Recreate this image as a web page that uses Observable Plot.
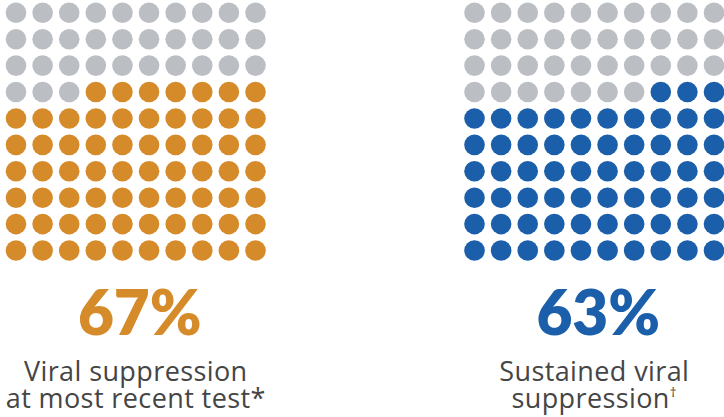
<!DOCTYPE html>
<html>
<head>
<meta charset="utf-8">
<script src="https://cdn.jsdelivr.net/npm/d3@7"></script>
<script src="https://cdn.jsdelivr.net/npm/@observablehq/plot@0.6"></script>
<style>
  html, body { margin: 0; padding: 0; background: #fff; }
  #chart svg { display: block; }
</style>
</head>
<body>
<div id="chart"></div>
<script>
// Data
const groups = ["left", "right"];
const percents = [67, 63];
const percentLabels = ["67%", "63%"];
const captions = ["Viral suppression\nat most recent test*", "Sustained viral\nsuppression†"];
const colors = ["#D68B2B", "#1B5FAB"];
const emptyColor = "#BBBEC3";

const gridSize = 10;
const groupOffset = 17.23; // column offset of second grid (grid units)

// Build waffle cells: filled from bottom row upward, right to left within a row
const cells = [];
groups.forEach((g, gi) => {
  for (let row = 0; row < gridSize; row++) {
    for (let col = 0; col < gridSize; col++) {
      const k = (gridSize - 1 - row) * gridSize + (gridSize - 1 - col);
      cells.push({
        group: g,
        x: gi * groupOffset + col,
        y: row,
        fill: k < percents[gi] ? colors[gi] : emptyColor
      });
    }
  }
});

const texts = groups.map((g, gi) => ({
  x: gi * groupOffset + 4.5,
  pct: percentLabels[gi],
  caption: captions[gi],
  color: colors[gi]
}));

const chart = Plot.plot({
  width: 724,
  height: 417,
  margin: 0,
  x: {type: "linear", domain: [0, 9], range: [15.5, 255], axis: null},
  y: {type: "linear", domain: [0, 9], range: [12.3, 250], axis: null},
  marks: [
    Plot.dot(cells, {x: "x", y: "y", r: 10.3, fill: "fill", stroke: null}),
    Plot.text(texts, {
      x: "x", y: () => 10.52, dx: 4, text: "pct", fill: "color",
      fontSize: 62, fontWeight: 800, fontFamily: "Lato",
      lineAnchor: "top", textAnchor: "middle"
    }),
    Plot.text(texts, {
      x: "x", y: () => 13.22, text: "caption", fill: "#454545",
      fontSize: 27, fontWeight: 500, fontFamily: "Open Sans", lineHeight: 0.99,
      lineAnchor: "top", textAnchor: "middle"
    })
  ]
});
// caption letter spacing and superscript dagger
d3.select(chart).selectAll("text").each(function() {
  const el = this;
  if (el.textContent.includes("suppression")) el.setAttribute("letter-spacing", "0.4");
});
d3.select(chart).selectAll("tspan, text").each(function() {
  const el = this;
  if (el.childElementCount === 0 && el.textContent.endsWith("†")) {
    const t = el.textContent.slice(0, -1);
    el.textContent = t;
    d3.select(el).append("tspan")
      .attr("font-size", "0.5em")
      .attr("dy", "-0.8em")
      .text("†");
  }
});
document.getElementById("chart").appendChild(chart);
</script>
</body>
</html>
